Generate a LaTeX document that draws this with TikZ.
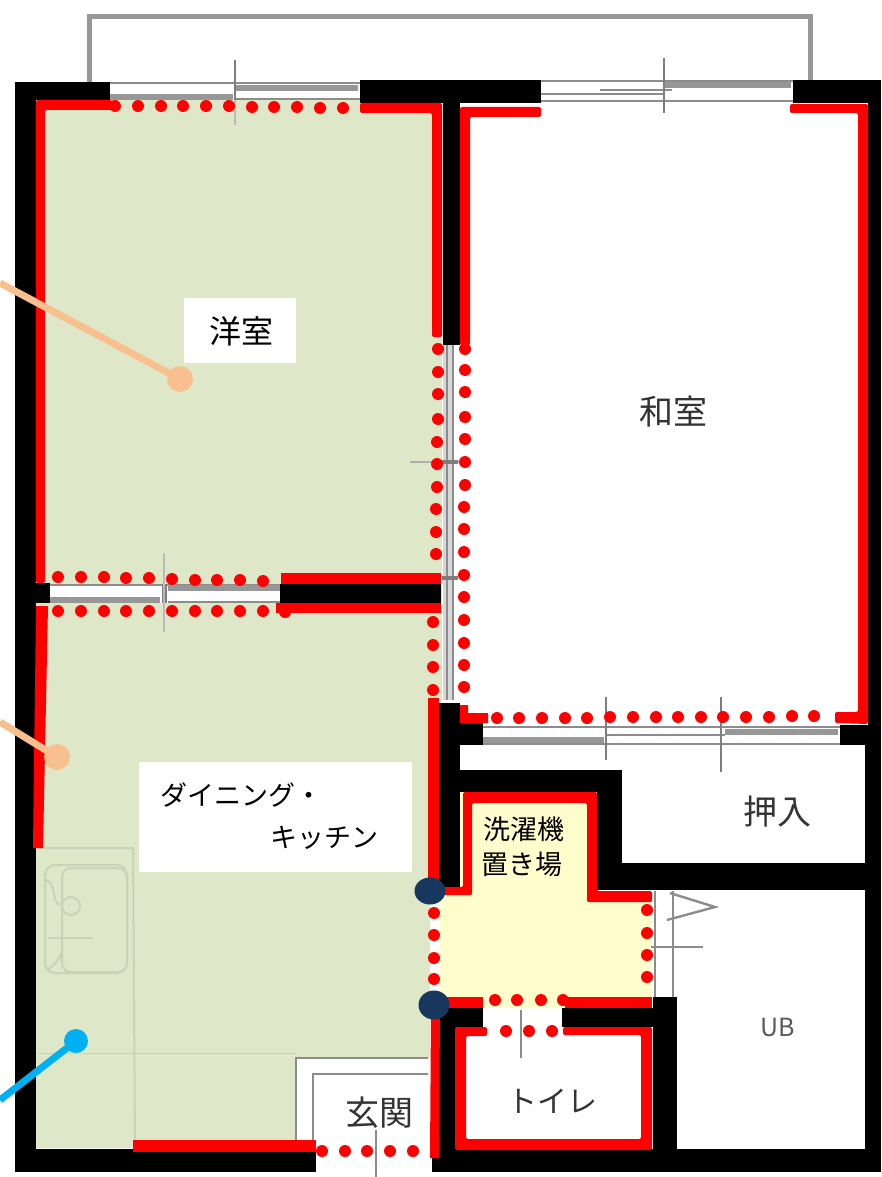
\documentclass[tikz,border=0pt]{standalone}
\usepackage{fontspec}
\setmainfont{Noto Sans CJK JP}
\definecolor{roomgreen}{HTML}{DFE7C9}
\definecolor{laundry}{HTML}{FFFDCB}
\definecolor{peach}{HTML}{F8C08E}
\definecolor{skyb}{HTML}{00B0F0}
\definecolor{navy}{HTML}{17375E}
\definecolor{sinkline}{HTML}{CAD3B8}
\definecolor{wingray}{HTML}{8C8C8C}
\tikzset{
  wall/.style={fill=black},
  redw/.style={fill=red},
  rd/.style={fill=red},
  winline/.style={draw=wingray,line width=1.8pt},
  winthick/.style={draw=wingray!90,line width=6pt},
  mull/.style={draw=wingray!90!black,line width=2.6pt},
  faint/.style={draw=sinkline,line width=2pt},
  lbl/.style={inner sep=0pt,text=black,font=\fontsize{27}{27}\selectfont},
  lblg/.style={inner sep=0pt,text=black!80,font=\fontsize{34}{34}\selectfont},
  pin/.style={circle,inner sep=0pt,minimum size=26pt,fill=peach},
  peachl/.style={draw=peach,line width=7pt},
  bluel/.style={draw=skyb,line width=7pt},
}
\newcommand{\rdots}[2]{\foreach \px/\py in {#2} {\fill[rd] (\px,\py) circle (#1);}}
\begin{document}
\begin{tikzpicture}[x=1pt,y=-1pt]
\useasboundingbox (0,0) rectangle (881,1177);
\fill[white] (0,0) rectangle (881,1177);
% room fills
\fill[roomgreen] (36,100) -- (442,100) -- (442,700) -- (430,700) -- (430,1058) -- (296,1058) -- (296,1148) -- (36,1148) -- cycle;
\fill[laundry] (460,792) -- (597,792) -- (597,895) -- (652,895) -- (652,1008) -- (440,1008) -- (440,890) -- (460,890) -- cycle;
% balcony
\draw[draw=wingray!90,line width=5pt] (89,82) -- (89,17) -- (810,17) -- (810,82);
% kitchen fixture
\draw[faint] (38,848) -- (133,848) -- (135,1148);
\draw[faint,rounded corners=10pt] (45,865) rectangle (127,973);
\draw[faint,rounded corners=9pt] (62,868) rectangle (127,972);
\draw[faint] (71,906) circle (9);
\draw[faint] (48,938) -- (93,938);
\draw[faint] (46,880) .. controls (58,885) and (50,900) .. (60,905);
\draw[faint] (62,950) .. controls (60,960) and (52,968) .. (46,970);
\draw[faint,line width=.8pt] (38,1053) -- (296,1053);
% entrance
\fill[white] (298,1058) rectangle (430,1150);
\fill[white] (316,1150) rectangle (432,1177);
\draw[draw=wingray,line width=1.8pt] (296,1148) -- (296,1058) -- (428,1058);
\draw[draw=wingray,line width=1.8pt] (313,1148) -- (313,1074) -- (428,1074);
\draw[draw=wingray,line width=2.4pt] (376,1130) -- (376,1177);
% top-left window
\fill[white] (110,82) rectangle (360,100);
\draw[winline] (110,83) -- (360,83);
\draw[winthick] (235,88) -- (358,88);
\draw[winthick] (110,97) -- (233,97);
\draw[winline] (235,99) -- (360,99);
\draw[mull] (235,60) -- (235,100);
\draw[draw=wingray!60,line width=1.6pt] (235,100) -- (235,125);
% top-right window
\draw[winline] (541,81) -- (793,81);
\draw[winline] (541,94) -- (664,94);
\draw[winline] (541,101) -- (793,101);
\draw[winthick] (664,85) -- (791,85);
\draw[winline] (600,90) -- (672,90);
\draw[mull] (664,58) -- (664,113);
% middle window
\fill[white] (50,584) rectangle (280,603);
\draw[winline] (50,585) -- (280,585);
\draw[winthick] (50,599.5) -- (160,599.5);
\draw[winthick] (168,587.5) -- (280,587.5);
\draw[winline] (168,602) -- (280,602);
\draw[mull,line width=5pt] (164,584) -- (164,603);
\draw[draw=wingray!60,line width=1.6pt] (164,553) -- (164,632);
% vertical sliding door
\fill[white] (442,345) rectangle (470,700);
\fill[wingray!35] (443,345) rectangle (454,700);
\draw[draw=wingray,line width=2.4pt] (447,345) -- (447,700);
\draw[draw=wingray,line width=2pt] (453,345) -- (453,700);
\draw[draw=wingray!70,line width=1.6pt] (410,462) -- (462,462);
\draw[mull,line width=4pt] (442,462) -- (458,462);
\draw[mull,line width=4pt] (442,578) -- (458,578);
% closet window
\draw[winline] (483,727) -- (840,727);
\draw[winline] (483,744) -- (840,744);
\draw[winthick] (483,740) -- (604,740);
\draw[winthick] (725,732) -- (838,732);
\draw[winline] (606,735) -- (725,735);
\draw[mull] (606,697) -- (606,760);
\draw[mull] (721,697) -- (721,772);
% bathroom door
\draw[winline] (655,891) -- (655,997);
\draw[winline] (673,891) -- (673,997);
\draw[draw=wingray,line width=2.4pt] (670,893) -- (715,907) -- (667,920);
\draw[draw=wingray,line width=2.4pt] (651,947) -- (703,947);
% toilet door
\draw[draw=wingray,line width=2.4pt] (521,1010) -- (521,1058);
% black walls
\fill[wall] (15,82) rectangle (36,1172);
\fill[wall] (15,82) rectangle (110,100);
\fill[wall] (15,1149) rectangle (316,1172);
\fill[wall] (360,80) rectangle (541,103);
\fill[wall] (443,80) rectangle (460,345);
\fill[wall] (793,80) rectangle (881,103);
\fill[wall] (868,80) rectangle (881,725);
\fill[wall] (865,725) rectangle (881,1172);
\fill[wall] (36,583) rectangle (50,603);
\fill[wall] (280,584) rectangle (441,603);
\fill[wall] (439,703) rectangle (460,890);
\fill[wall] (459,723) rectangle (483,745);
\fill[wall] (840,725) rectangle (868,745);
\fill[wall] (460,770) rectangle (622,792);
\fill[wall] (597,770) rectangle (622,890);
\fill[wall] (597,863) rectangle (868,890);
\fill[wall] (653,997) rectangle (677,1150);
\fill[wall] (439,1008) rectangle (456,1150);
\fill[wall] (439,1008) rectangle (483,1027);
\fill[wall] (562,1008) rectangle (653,1027);
\fill[wall] (432,1149) rectangle (881,1172);
% red solid lines
\fill[redw,rounded corners=2pt] (36,112) -- (36,100) -- (112,100) -- (112,110) -- (45,110) -- (45,583) -- (36,583) -- cycle;
\fill[redw,rounded corners=2pt] (360,103) -- (442,103) -- (442,337) -- (432,337) -- (432,113) -- (360,113) -- cycle;
\fill[redw,rounded corners=2pt] (460,345) -- (460,107) -- (541,107) -- (541,117) -- (470,117) -- (470,345) -- cycle;
\fill[redw,rounded corners=2pt] (790,104) -- (868,104) -- (868,724) -- (835,723) -- (835,712) -- (858,712) -- (858,113) -- (790,113) -- cycle;
\fill[redw] (281,573) rectangle (441,584);
\fill[redw] (276,603) rectangle (441,613);
\fill[redw] (36,606) -- (48,606) -- (43,848) -- (33,848) -- cycle;
\fill[redw] (428,698) rectangle (439,880);
\fill[redw] (431,1010) -- (440,1010) -- (439,1158) -- (430,1158) -- cycle;
\fill[redw] (133,1140) rectangle (316,1152);
\fill[redw] (460,705) -- (468,705) -- (468,713) -- (488,713) -- (488,723) -- (460,723) -- cycle;
\fill[redw,rounded corners=1.5pt] (438,887) -- (463,887) -- (463,792) -- (597,792) -- (597,891) -- (652,891) -- (652,902) -- (587,902) -- (587,803) -- (472,803) -- (472,895) -- (438,895) -- cycle;
\fill[redw] (440,997) rectangle (483,1008);
\fill[redw] (565,997) rectangle (652,1008);
\fill[redw,rounded corners=2pt] (487,1027) -- (455,1027) -- (455,1150) -- (652,1150) -- (652,1027) -- (563,1027) -- (563,1035) -- (641,1035) -- (641,1139) -- (466,1139) -- (466,1036) -- (487,1036) -- cycle;
% red dots
\rdots{6}{115/106,138/106,161/106,183/106,206/106,229/106,252/107,274/107,297/107,320/108,343/108}
\rdots{6}{58/577,81/577,104/577,126/578,149/578,172/579,195/580,217/580,240/580,263/581}
\rdots{6}{58/611,81/611,104/611,126/611,149/611,172/611,195/611,217/611,240/611,263/611,285/612}
\rdots{6}{438/349,438/372,438/394,438/419,437/442,437/464,437/487,436/509,436/532,436/554}
\rdots{6}{433/622,433/645,433/667,433/690}
\rdots{6}{465/349,465/370,465/392,465/417,465/439,465/462,465/485,464/507,464/529,464/552,464/575,464/597,464/620,464/643,464/665,464/687}
\rdots{6}{497/718,519/718,542/718,565/718,587/718,610/717,633/717,656/717,678/717,701/717,723/717,746/717,769/717,792/716,814/716}
\rdots{6}{434/913,434/935,434/958,434/979,647/910,647/933,647/955,647/977}
\rdots{6}{495/1000,517/1000,541/1000,563/1000}
\rdots{6}{506/1031,529/1031,552/1031}
\rdots{6}{322/1151,345/1151,367/1151,390/1151,413/1151}
% junction dots
\fill[navy] (430,891) ellipse [x radius=15.5,y radius=13.5];
\fill[navy] (434,1005) ellipse [x radius=15.5,y radius=14.5];
% leaders
\node[pin] (p1) at (180,379) {};
\node[pin] (p2) at (57,757) {};
\node[pin,fill=skyb,minimum size=24pt] (p3) at (76,1041) {};
\coordinate (e1) at (0,283);
\coordinate (e2) at (0,722);
\coordinate (e3) at (0,1100);
\draw[peachl] (e1) -- (p1.center);
\draw[peachl] (e2) -- (p2.center);
\draw[bluel] (e3) -- (p3.center);
% label boxes
\fill[white] (184,298) rectangle (296,363);
\fill[white] (139,762) rectangle (412,872);
\node[lbl,font=\fontsize{32}{32}\selectfont] (t1) at (241,331) {洋室};
\node[lbl,anchor=west] (t2) at (160,795) {ダイニング・};
\node[lbl,anchor=west] (t3) at (270,838) {キッチン};
\node[lblg] (t4) at (673,412) {和室};
\node[lblg] (t5) at (777,812) {押入};
\node[lbl] (t6) at (524,829) {洗濯機};
\node[lbl] (t7) at (522,864) {置き場};
\node[lblg,font=\fontsize{30}{30}\selectfont] (t8) at (552,1101) {トイレ};
\node[lblg] (t9) at (379,1113) {玄関};
\node[inner sep=0pt,text=black!65,font=\fontsize{25}{25}\selectfont] (t10) at (778,1027) {UB};
\end{tikzpicture}
\end{document}
